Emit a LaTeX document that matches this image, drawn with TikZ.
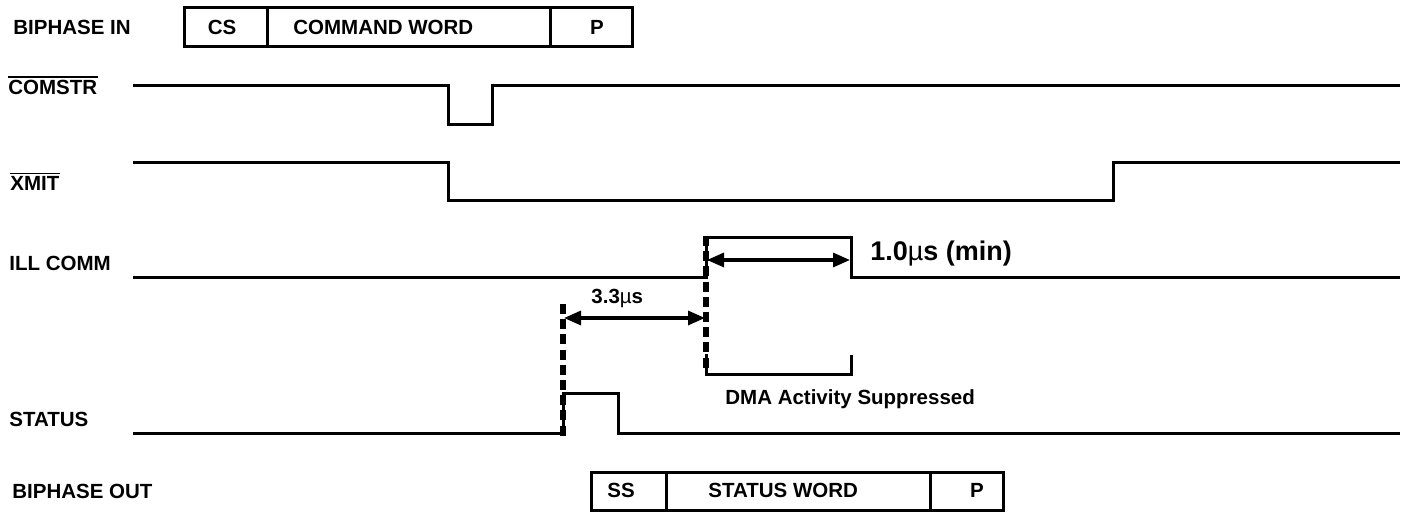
\documentclass[tikz,border=0pt]{standalone}
\usepackage{fontspec}
\setmainfont{Liberation Sans}
\usetikzlibrary{arrows.meta}
\begin{document}
\begin{tikzpicture}[x=0.5pt,y=-0.5pt,
  sig/.style={line width=1.5pt},
  boxline/.style={line width=1.5pt},
  lbl/.style={anchor=base west, inner sep=0pt, font=\fontsize{10.25}{12}\selectfont\bfseries},
  ctxt/.style={anchor=base, inner sep=0pt, font=\fontsize{10.25}{12}\selectfont\bfseries},
  big/.style={anchor=base west, inner sep=0pt, font=\fontsize{13.5}{16}\selectfont\bfseries},
  ovl/.style={line width=0.6pt},
  dim/.style={line width=1.6pt, {Triangle[length=8.5pt,width=7pt]}-{Triangle[length=8.5pt,width=7pt]}, shorten <=0.5pt, shorten >=0.5pt},
  dsh/.style={line width=2.6pt, dash pattern=on 5pt off 2.6pt}]
\useasboundingbox (0,0) rectangle (1410,512);

% labels
\node[lbl] (lbi) at (13,35) {BIPHASE IN};
\node[lbl] (lcs) at (8,95) {COMSTR};
\draw[ovl] ([yshift=1.6pt]lcs.north west) -- ([yshift=1.6pt]lcs.north east);
\node[lbl] (lxm) at (10,191) {XMIT};
\draw[ovl] ([yshift=1.6pt]lxm.north west) -- ([yshift=1.6pt]lxm.north east);
\node[lbl] (lil) at (9,271) {ILL COMM};
\node[lbl] (lst) at (9,427) {STATUS};
\node[lbl] (lbo) at (12,499) {BIPHASE OUT};

% top word box
\draw[boxline] (184,8) rectangle (632,47);
\draw[boxline] (267,8) -- (267,47);
\draw[boxline] (550,8) -- (550,47);
\node[ctxt] (tcs) at (222,35) {CS};
\node[lbl] (tcw) at (293,35) {COMMAND WORD};
\node[ctxt] (tp) at (597,35) {P};

% bottom word box
\draw[boxline] (591,473) rectangle (1003,511);
\draw[boxline] (666,473) -- (666,511);
\draw[boxline] (930,473) -- (930,511);
\node[ctxt] (bss) at (621,498) {SS};
\node[lbl] (bsw) at (708,498) {STATUS WORD};
\node[ctxt] (bp) at (977,498) {P};

% waveforms
\draw[sig] (133,86) -- (448,86) -- (448,125) -- (492,125) -- (492,86) -- (1400,86);
\draw[sig] (133,163) -- (448,163) -- (448,201) -- (1113,201) -- (1113,163) -- (1400,163);
\draw[sig] (133,278) -- (706,278) -- (706,238) -- (851,238) -- (851,278) -- (1400,278);
\draw[sig] (133,434) -- (563,434) -- (563,394) -- (618,394) -- (618,434) -- (1400,434);

% reference points
\coordinate (s0) at (563,318);
\coordinate (i0) at (706,318);
\coordinate (i1) at (706,260);
\coordinate (i2) at (851,260);

% dashed guides
\draw[dsh] (563,304) -- (563,437);
\draw[dsh] (706,236) -- (706,370);

% bracket
\draw[boxline] (706,354) -- (706,375) -- (851,375) -- (851,355);

% dimension arrows
\draw[dim] (s0) -- (i0);
\draw[dim] (i1) -- (i2);

% texts
\node[lbl] (t33) at (591,304) {3.3{\mdseries µ}s};
\node[big] (t10) at (870,261) {1.0{\mdseries µ}s (min)};
\node[lbl] (tdma) at (725,405) {DMA Activity Suppressed};
\end{tikzpicture}
\end{document}
